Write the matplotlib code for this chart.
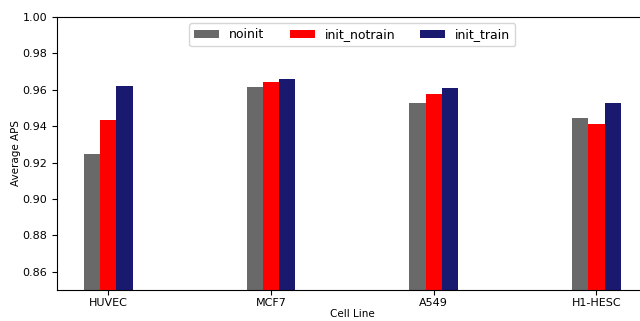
import numpy as np
import matplotlib
matplotlib.use('Agg')
import matplotlib.pyplot as plt

cell_lines = ['HUVEC', 'MCF7', 'A549', 'H1-HESC']
noinit = [0.9245, 0.9617, 0.9526, 0.9446]
init_notrain = [0.9433, 0.9642, 0.9578, 0.9414]
init_train = [0.9622, 0.9660, 0.9611, 0.9530]

series = [('noinit', noinit, 'dimgray'),
          ('init_notrain', init_notrain, 'red'),
          ('init_train', init_train, 'midnightblue')]


def main():
    fig = plt.figure(figsize=(6.4, 3.21), dpi=100)
    ax = fig.add_axes([0.089, 0.097, 0.923, 0.850])

    x = np.arange(len(cell_lines))
    width = 0.1
    for i, (name, vals, color) in enumerate(series):
        ax.bar(x + (i - 1) * width, vals, width, color=color, label=name)

    ax.set_ylim(0.85, 1.0)
    ax.set_yticks(np.arange(0.86, 1.001, 0.02))
    ax.set_xticks(x)
    ax.set_xticklabels(cell_lines)
    ax.tick_params(labelsize=8)
    ax.tick_params(axis='x', pad=2)
    ax.set_xlabel('Cell Line', fontsize=7.5, labelpad=1)
    ax.set_ylabel('Average APS', fontsize=7.5, labelpad=1)
    ax.legend(loc='upper center', ncol=3, fontsize=9)

    fig.savefig('out.png', dpi=100)


if __name__ == "__main__":
    main()
